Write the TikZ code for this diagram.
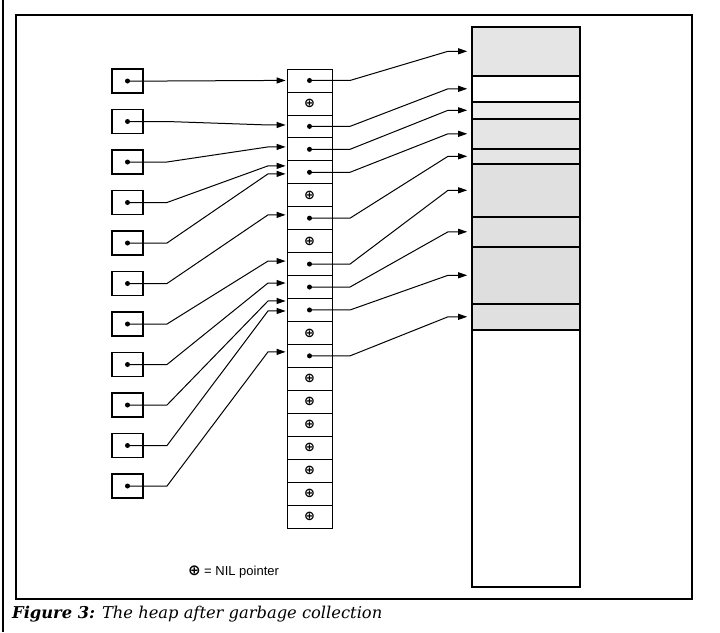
\documentclass[tikz,border=0pt]{standalone}
\usepackage{fontspec}
\setsansfont{Liberation Sans}
\newfontfamily\capfont{DejaVu Serif}
\newfontfamily\nilfont{DejaVu Sans}
\usetikzlibrary{arrows.meta}
\tikzset{
  refbox/.style={draw, line width=1.3pt, minimum width=31pt, minimum height=24pt, inner sep=0pt},
  cell/.style={draw, line width=0.8pt, minimum width=45pt, minimum height=22.95pt, inner sep=0pt},
  obj/.style={draw, line width=1.6pt, minimum width=108pt, inner sep=0pt, anchor=north},
  dot/.style={circle, fill, inner sep=0pt, minimum size=5pt},
  ptr/.style={line width=1pt, -{Triangle[length=9pt,width=6pt]}},
  nil/.style={font=\nilfont\bfseries\fontsize{13}{13}\selectfont},
}
\begin{document}
\begin{tikzpicture}[x=1pt,y=-1pt]
\useasboundingbox (0,0) rectangle (720,632);
% frame
\draw [line width=1.5pt] (16,15) rectangle (692,599);
\draw [line width=1.5pt] (3,0) -- (3,632);
% bend points of the connectors
\coordinate (lbend) at (167,0);
\coordinate (lend) at (268,0);
\coordinate (rbend) at (350,0);
\coordinate (rend) at (448,0);
% pointer table
\foreach \i in {1,...,20}
  \node [cell] (cell\i) at (309.5,{69+22.95*(\i-0.5)}) {};
\draw [line width=1.6pt] (cell1.north east) -- (cell20.south east);
\foreach \i in {1,3,4,5,7,9,10,11,13}
  \node [dot] (p\i) at (cell\i.center) {};
\foreach \i in {2,6,8,12,14,15,16,17,18,19,20}
  \node [nil] (n\i) at (cell\i.center) {⊕};
% heap
\foreach \t/\b/\f [count=\k] in {26/75/black!10,75/101/white,101/118/black!7,118/148/black!10,
    148/163/black!10,163/216/black!12,216/246/black!12,246/303/black!13,303/329/black!12}
  \node [obj, fill=\f, minimum height={\b-\t}] (obj\k) at (526,\t) {};
\node [obj, fill=white, minimum height=257] (free) at (526,329) {};
% references
\foreach \i in {1,...,11} {
  \node [refbox] (box\i) at (127.5,{81+40.5*(\i-1)}) {};
  \node [dot] (r\i) at (box\i.center) {};
}
\foreach \i/\c/\s in {1/1/0,2/3/1.4,3/4/2.4,4/5/6.4,5/5/-1.6,6/7/3.3,7/9/3,8/10/4,9/11/9,10/11/-1,11/13/4} {
  \coordinate (t\i) at ([yshift=\s pt]cell\c.west);
  \draw [ptr, shorten >=1pt] (r\i.center) -- (r\i.center -| lbend) -- (t\i -| lend) -- (t\i);
}
\foreach \c/\k in {1/1,3/2,4/3,5/4,7/5,9/6,10/7,11/8,13/9}
  \draw [ptr, shorten >=4pt] (p\c.center) -- (p\c.center -| rbend) -- (obj\k.west -| rend) -- (obj\k.west);
% legend and caption
\node [font=\sffamily\fontsize{13}{15}\selectfont] (legend) at (233.5,572) {{\nilfont\bfseries\fontsize{15}{15}\selectfont ⊕} = NIL pointer};
\node [anchor=base west, inner sep=0pt, font=\capfont\fontsize{16.3}{19}\selectfont] (caption) at (12,618)
  {\textbf{\textit{Figure 3:}} \textit{The heap after garbage collection}};
\end{tikzpicture}
\end{document}
